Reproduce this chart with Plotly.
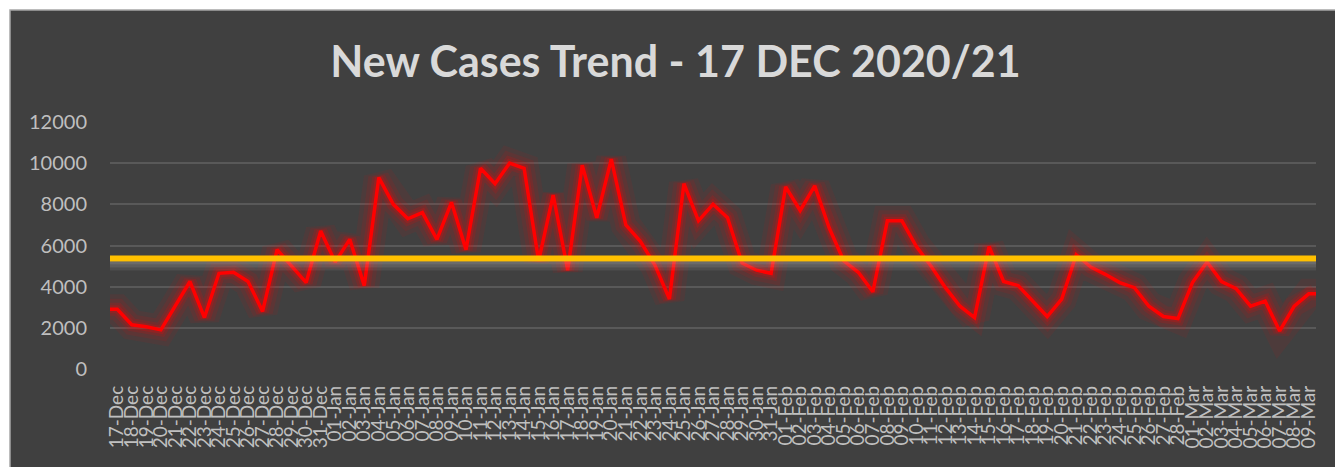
import plotly.graph_objects as go
import pandas as pd

# ---- data ----
dates = pd.date_range("2020-12-17", "2021-03-09", freq="D")
labels = [d.strftime("%d-%b") for d in dates]

new_cases = [
    2900, 2150, 2050, 1900, 3050, 4250, 2500, 4650, 4700, 4250, 2800,
    5800, 5000, 4200, 6700, 5200, 6300, 4050, 9300, 8000, 7300, 7600, 6300,
    8100, 5800, 9750, 9000, 10000, 9750, 5250, 8450, 4800, 9900, 7350, 10200,
    7000, 6200, 5050, 3400, 9000, 7200, 8000, 7350, 5150, 4800, 4650, 8850,
    7700, 8900, 6850, 5250, 4700, 3750,
    7200, 7200, 5950, 5000, 3950, 3050, 2500, 5950, 4250, 4050, 3300, 2550,
    3400, 5550, 4950, 4600, 4200, 3950, 3050, 2550, 2450, 4200, 5200, 4250,
    3900, 3050, 3300, 1850, 3050, 3650,
]
average = sum(new_cases) / len(new_cases)

title_text = "New Cases Trend - 17 DEC 2020/21"
y_ticks = [0, 2000, 4000, 6000, 8000, 10000, 12000]

# ---- layout geometry ----
W, H = 1335, 467
L, R, T, B = 110, 19, 122, 98
PW, PH = W - L - R, H - T - B

def px_to_paper_x(px):
    return (px - L) / PW

def px_to_paper_y(py):
    return (H - B - py) / PH

idx = list(range(len(new_cases)))
# line extends flat to the plot edges (category-gap style)
x_line = [-0.5] + idx + [len(idx) - 0.5]
y_line = [new_cases[0]] + new_cases + [new_cases[-1]]

fig = go.Figure()

# glow layers
for w, a in [(30, 0.07), (21, 0.09), (13, 0.14), (8, 0.2)]:
    fig.add_trace(go.Scatter(
        x=x_line, y=y_line, mode="lines",
        line=dict(color=f"rgba(255,0,0,{a})", width=w, shape="linear"),
        hoverinfo="skip", showlegend=False,
    ))

fig.add_trace(go.Scatter(
    x=x_line, y=y_line, mode="lines",
    line=dict(color="#FF0000", width=3.5),
    name="New Cases", showlegend=False,
))

fig.add_trace(go.Scatter(
    x=[-0.5, len(idx) - 0.5], y=[average, average], mode="lines",
    line=dict(color="#FFC000", width=6),
    name="Average", showlegend=False,
))

shapes = [
    # white surround + dark chart area
    dict(type="rect", xref="paper", yref="paper",
         x0=px_to_paper_x(10), x1=px_to_paper_x(W + 5),
         y0=px_to_paper_y(H + 5), y1=px_to_paper_y(10),
         fillcolor="#404040", line=dict(color="#a6a6a6", width=1.5),
         layer="below"),
]
# soft grey shadow under the average line
for (p0, p1, a) in [(-3, -6, 0.30), (-6, -9, 0.20), (-9, -12, 0.10)]:
    shapes.append(dict(
        type="rect", xref="paper", yref="y", ysizemode="pixel",
        yanchor=average, x0=0, x1=1, y0=p0, y1=p1,
        fillcolor=f"rgba(210,210,210,{a})", line=dict(width=0),
        layer="above",
    ))

fig.update_layout(
    width=W, height=H,
    margin=dict(l=L, r=R, t=T, b=B, autoexpand=False),
    paper_bgcolor="white",
    plot_bgcolor="rgba(0,0,0,0)",
    shapes=shapes,
    title=dict(
        text=title_text,
        font=dict(family="Lato", size=43, color="#d9d9d9", weight="bold"),
        x=0.506, xref="container", xanchor="center",
        y=1 - 62 / H, yref="container", yanchor="middle",
    ),
    xaxis=dict(
        range=[-0.5, len(idx) - 0.5],
        tickmode="array", tickvals=idx, ticktext=labels,
        tickangle=-90, showgrid=False, zeroline=False, showline=False,
        ticks="", ticklabelstandoff=12,
        tickfont=dict(family="Lato", size=19, color="#bfbfbf"),
        automargin=False,
    ),
    yaxis=dict(
        range=[0, 12000], tickmode="array", tickvals=y_ticks,
        ticktext=[str(v) for v in y_ticks],
        showgrid=True, gridcolor="#595959", gridwidth=1.5,
        zeroline=False, showline=False, ticks="", ticklabelstandoff=22,
        tickfont=dict(family="Lato", size=20, color="#bfbfbf"),
        automargin=False,
    ),
)

page_fix = (
    "document.body.style.margin='0';"
    "document.body.style.overflow='hidden';"
    "document.documentElement.style.overflow='hidden';"
)
fig.write_html("out.html", post_script=page_fix,
               config={"displayModeBar": False})
